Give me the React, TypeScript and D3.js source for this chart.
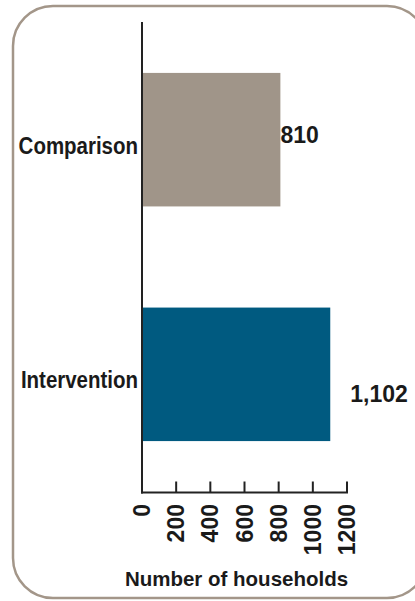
import React from "react";
import * as d3 from "d3";

const categories = ["Comparison", "Intervention"];
const values = [810, 1102];
const valueLabels = ["810", "1,102"];
const barColors = ["#a09589", "#005a80"];
const tickValues = [0, 200, 400, 600, 800, 1000, 1200];
const tickLabels = ["0", "200", "400", "600", "800", "1000", "1200"];
const axisTitle = "Number of households";

// layout constants for value label placement (offsets from bar end / centre)
const valueLabelDx = [0, 20];
const valueLabelDy = [3, 28];

const W = 415;
const H = 601;
const FONT = "'Liberation Sans', Arial, sans-serif";

export default function App() {
  const x = d3.scaleLinear().domain([0, 1200]).range([142, 347]);
  const y = d3
    .scaleBand<string>()
    .domain(categories)
    .range([22, 492])
    .paddingInner(0.431)
    .paddingOuter(0.217);
  const axisY = 492.5;

  return (
    <svg
      width={W}
      height={H}
      style={{ position: "absolute", left: 0, top: 0, background: "#fff" }}
      fontFamily={FONT}
    >
      <rect x={13} y={6} width={414} height={592} rx={40} ry={40} fill="#fff" stroke="#a39689" strokeWidth={2.5} />
      {categories.map((c, i) => (
        <rect
          key={c}
          x={x(0)}
          y={y(c)!}
          width={x(values[i]) - x(0)}
          height={y.bandwidth()}
          fill={barColors[i]}
        />
      ))}
      {/* vertical axis line */}
      <line x1={x(0)} x2={x(0)} y1={22} y2={axisY + 1} stroke="#222" strokeWidth={2} />
      {/* horizontal axis */}
      <line x1={x(0) - 1} x2={x(1200) + 1} y1={axisY} y2={axisY} stroke="#222" strokeWidth={2} />
      {tickValues.map((t, i) => (
        <g key={t}>
          <line x1={x(t)} x2={x(t)} y1={axisY} y2={481.5} stroke="#222" strokeWidth={2} />
          <text
            transform={`translate(${x(t) + 8},504) rotate(-90)`}
            textAnchor="end"
            fontSize={23}
            fontWeight="bold"
            fill="#1a1a1a"
          >
            {tickLabels[i]}
          </text>
        </g>
      ))}
      {categories.map((c, i) => (
        <text
          key={c}
          transform={`translate(138,${y(c)! + y.bandwidth() / 2 + 14}) scale(0.89,1)`}
          textAnchor="end"
          fontSize={23}
          fontWeight="bold"
          fill="#1a1a1a"
        >
          {c}
        </text>
      ))}
      {categories.map((c, i) => (
        <text
          key={c + "v"}
          x={x(values[i]) + valueLabelDx[i]}
          y={y(c)! + y.bandwidth() / 2 + valueLabelDy[i]}
          fontSize={23}
          fontWeight="bold"
          fill="#1a1a1a"
        >
          {valueLabels[i]}
        </text>
      ))}
      <text x={236.5} y={586} textAnchor="middle" fontSize={20.5} fontWeight="bold" fill="#1a1a1a">
        {axisTitle}
      </text>
    </svg>
  );
}
